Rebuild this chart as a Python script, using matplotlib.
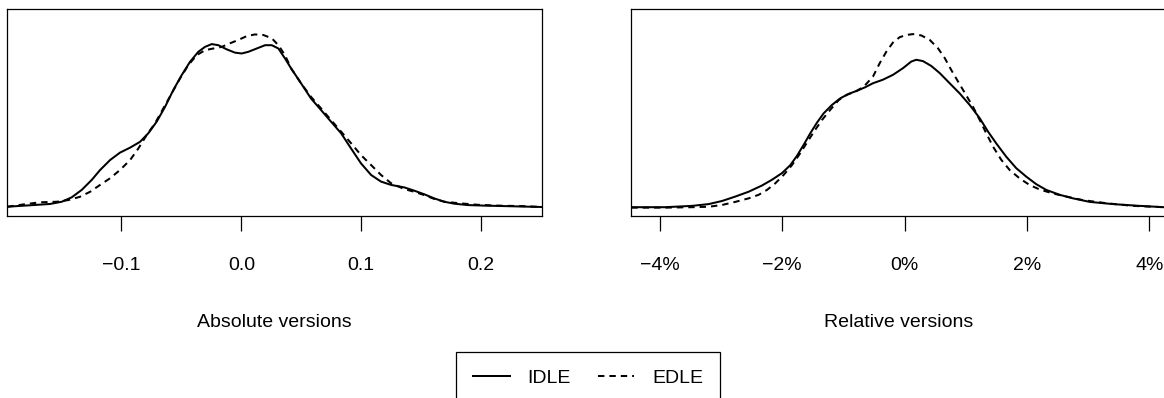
import matplotlib
matplotlib.use("Agg")
import matplotlib.pyplot as plt

# Absolute versions: x values and estimated density
abs_idle_x = [-0.1952, -0.1735, -0.1596, -0.1498, -0.1415, -0.1331, -0.1248, -0.1178,
              -0.1095, -0.1012, -0.0928, -0.0845, -0.0776, -0.0706, -0.0636, -0.0567,
              -0.0497, -0.0428, -0.0359, -0.0303, -0.0247, -0.0192, -0.0122, -0.0053,
              0.0003, 0.0058, 0.0128, 0.0198, 0.0254, 0.0309, 0.0364, 0.0415, 0.0498,
              0.0581, 0.0665, 0.0748, 0.0832, 0.0915, 0.0998, 0.1082, 0.1165, 0.1249,
              0.1359, 0.1443, 0.1526, 0.1610, 0.1693, 0.1776, 0.1888, 0.2027, 0.2222,
              0.2505]
abs_idle_y = [0.05, 0.11, 0.15, 0.23, 0.39, 0.66, 1.02, 1.38, 1.74, 2.01, 2.19, 2.40,
              2.71, 3.13, 3.67, 4.28, 4.82, 5.30, 5.66, 5.84, 5.94, 5.90, 5.75, 5.63,
              5.60, 5.66, 5.78, 5.90, 5.90, 5.78, 5.42, 5.06, 4.52, 3.97, 3.55, 3.13,
              2.71, 2.16, 1.62, 1.20, 0.96, 0.84, 0.75, 0.63, 0.50, 0.35, 0.23, 0.16,
              0.11, 0.09, 0.07, 0.04]

abs_edle_x = [-0.1952, -0.1790, -0.1679, -0.1540, -0.1443, -0.1346, -0.1262, -0.1178,
              -0.1095, -0.1012, -0.0928, -0.0859, -0.0789, -0.0720, -0.0651, -0.0580,
              -0.0511, -0.0442, -0.0372, -0.0303, -0.0234, -0.0163, -0.0094, -0.0025,
              0.0045, 0.0114, 0.0183, 0.0254, 0.0309, 0.0364, 0.0415, 0.0498, 0.0581,
              0.0665, 0.0748, 0.0832, 0.0915, 0.0998, 0.1082, 0.1165, 0.1249, 0.1359,
              0.1443, 0.1526, 0.1610, 0.1693, 0.1832, 0.1972, 0.2138, 0.2360, 0.2505]
abs_edle_y = [0.05, 0.15, 0.21, 0.23, 0.29, 0.41, 0.59, 0.84, 1.08, 1.38, 1.74, 2.16,
              2.65, 3.07, 3.61, 4.16, 4.70, 5.18, 5.54, 5.72, 5.78, 5.84, 5.97, 6.09,
              6.23, 6.29, 6.27, 6.15, 5.90, 5.54, 5.06, 4.52, 4.03, 3.61, 3.19, 2.77,
              2.35, 1.92, 1.56, 1.20, 0.90, 0.69, 0.59, 0.47, 0.33, 0.23, 0.17, 0.12,
              0.09, 0.07, 0.04]

# Relative versions (x in percent)
rel_idle_x = [-4.467, -3.912, -3.476, -3.203, -2.985, -2.768, -2.549, -2.332, -2.168,
              -2.005, -1.869, -1.760, -1.650, -1.542, -1.433, -1.324, -1.188, -1.052,
              -0.915, -0.779, -0.644, -0.518, -0.355, -0.191, -0.028, 0.108, 0.190,
              0.299, 0.435, 0.572, 0.735, 0.899, 1.062, 1.226, 1.361, 1.497, 1.660,
              1.824, 1.987, 2.150, 2.314, 2.533, 2.750, 3.023, 3.404, 3.840, 4.237]
rel_idle_y = [0.002, 0.002, 0.005, 0.009, 0.016, 0.026, 0.037, 0.051, 0.064, 0.079,
              0.097, 0.118, 0.143, 0.169, 0.193, 0.214, 0.233, 0.248, 0.258, 0.265,
              0.273, 0.282, 0.290, 0.301, 0.316, 0.331, 0.335, 0.332, 0.321, 0.305,
              0.282, 0.259, 0.233, 0.203, 0.173, 0.146, 0.116, 0.090, 0.071, 0.054,
              0.041, 0.030, 0.022, 0.014, 0.009, 0.005, 0.002]

rel_edle_x = [-4.467, -3.912, -3.476, -3.203, -2.985, -2.768, -2.549, -2.386, -2.250,
              -2.114, -1.977, -1.842, -1.706, -1.569, -1.461, -1.351, -1.216, -1.078,
              -0.943, -0.807, -0.670, -0.518, -0.409, -0.301, -0.191, -0.082, 0.026,
              0.136, 0.271, 0.409, 0.544, 0.654, 0.761, 0.871, 0.953, 1.034, 1.116,
              1.226, 1.333, 1.443, 1.578, 1.716, 1.879, 2.043, 2.206, 2.423, 2.641,
              2.913, 3.294, 3.730, 4.237]
rel_edle_y = [0.001, 0.001, 0.002, 0.003, 0.007, 0.014, 0.022, 0.030, 0.041, 0.056,
              0.075, 0.097, 0.124, 0.154, 0.177, 0.199, 0.222, 0.244, 0.256, 0.263,
              0.274, 0.297, 0.327, 0.353, 0.374, 0.386, 0.391, 0.393, 0.390, 0.380,
              0.361, 0.339, 0.312, 0.286, 0.267, 0.248, 0.229, 0.199, 0.169, 0.139,
              0.109, 0.086, 0.067, 0.052, 0.042, 0.033, 0.026, 0.018, 0.011, 0.005,
              0.002]

abs_ticks = [-0.1, 0.0, 0.1, 0.2]
abs_tick_labels = ["\u22120.1", "0.0", "0.1", "0.2"]
rel_ticks = [-4, -2, 0, 2, 4]
rel_tick_labels = ["\u22124%", "\u22122%", "0%", "2%", "4%"]

plt.rcParams["font.family"] = ["Liberation Sans", "DejaVu Sans"]
plt.rcParams["font.size"] = 14
plt.rcParams["lines.scale_dashes"] = False

W, H = 1164, 398
LW = 1.45
DASH = (0, (4.6, 3.6))


def style_axis(ax, ticks, labels, xlim, ylim, xlabel):
    ax.set_xlim(*xlim)
    ax.set_ylim(*ylim)
    ax.set_yticks([])
    ax.set_xticks(ticks)
    ax.set_xticklabels(labels)
    ax.tick_params(axis="x", direction="out", length=10.8, width=0.9, pad=19,
                   labelsize=14)
    for sp in ax.spines.values():
        sp.set_linewidth(0.9)
    ax.set_xlabel(xlabel, fontsize=14, va="baseline")
    ax.xaxis.set_label_coords(0.5, -0.5407)


fig = plt.figure(figsize=(W / 100, H / 100), dpi=100)

# axes placed in pixel units; right panel runs past the edge
ax1 = fig.add_axes([7.3 / W, 182.3 / H, 535 / W, 206.4 / H])
ax2 = fig.add_axes([631.3 / W, 182.3 / H, 535 / W, 206.4 / H])

l1, = ax1.plot(abs_idle_x, abs_idle_y, color="black", lw=LW, label="IDLE")
l2, = ax1.plot(abs_edle_x, abs_edle_y, color="black", lw=LW, linestyle=DASH, label="EDLE")
style_axis(ax1, abs_ticks, abs_tick_labels, (-0.1952, 0.2510), (-0.275, 7.2),
           "Absolute versions")

ax2.plot(rel_idle_x, rel_idle_y, color="black", lw=LW)
ax2.plot(rel_edle_x, rel_edle_y, color="black", lw=LW, linestyle=DASH)
style_axis(ax2, rel_ticks, rel_tick_labels, (-4.467, 4.275), (-0.0172, 0.449),
           "Relative versions")

leg = fig.legend(handles=[l1, l2], loc="upper center",
                 bbox_to_anchor=(588.0 / W, 1 - 351.7 / H), ncol=2,
                 frameon=True, fancybox=False, edgecolor="black", framealpha=1,
                 borderpad=0.9, handlelength=1.9, handletextpad=0.9,
                 columnspacing=1.37, borderaxespad=0, fontsize=14)
leg.get_frame().set_linewidth(0.9)

fig.savefig("out.png", dpi=100)
